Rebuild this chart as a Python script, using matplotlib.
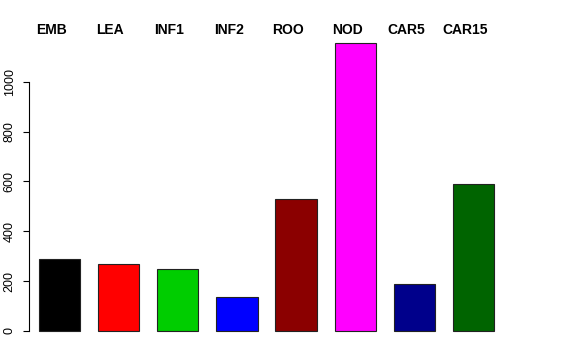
import numpy as np
import matplotlib
matplotlib.use('Agg')
import matplotlib.pyplot as plt
from matplotlib.transforms import blended_transform_factory

# Data
tissues = ['EMB', 'LEA', 'INF1', 'INF2', 'ROO', 'NOD', 'CAR5', 'CAR15']
counts = [289, 270, 249, 136, 528, 1154, 187, 591]
bar_colors = ['#000000', '#FF0000', '#00CD00', '#0000FF',
              '#8B0000', '#FF00FF', '#00008B', '#006400']
yticks = [0, 200, 400, 600, 800, 1000]

plt.rcParams['font.family'] = ['Liberation Sans', 'DejaVu Sans']

fig = plt.figure(figsize=(5.76, 3.6), dpi=100)
# axes placed so that the y axis sits at x=29px, zero at y=331px
ax = fig.add_axes([29 / 576, 29 / 360, 511 / 576, 289.2 / 360])

x = np.arange(len(tissues))
ax.bar(x, counts, width=0.7, color=bar_colors, edgecolor='#222222',
       linewidth=0.8, clip_on=False)

ax.set_xlim((29 - 59.3) / 59.2, (540 - 59.3) / 59.2)
ax.set_ylim(0, 1160)

for s in ['top', 'right', 'bottom']:
    ax.spines[s].set_visible(False)
ax.spines['left'].set_bounds(0, 1000)
ax.spines['left'].set_linewidth(0.8)
ax.set_xticks([])
ax.set_yticks(yticks)
ax.set_yticklabels([str(t) for t in yticks], rotation=90, va='center', fontsize=9)
ax.tick_params(axis='y', length=4.5, width=0.8, pad=5)

# tissue names along the top
trans = blended_transform_factory(ax.transData, fig.transFigure)
for xi, name in zip(x, tissues):
    ax.text(xi - 0.14, 1 - 30 / 360, name, transform=trans, ha='center', va='center',
            fontsize=10, fontweight='bold', clip_on=False)

fig.savefig('out.png', dpi=100)
